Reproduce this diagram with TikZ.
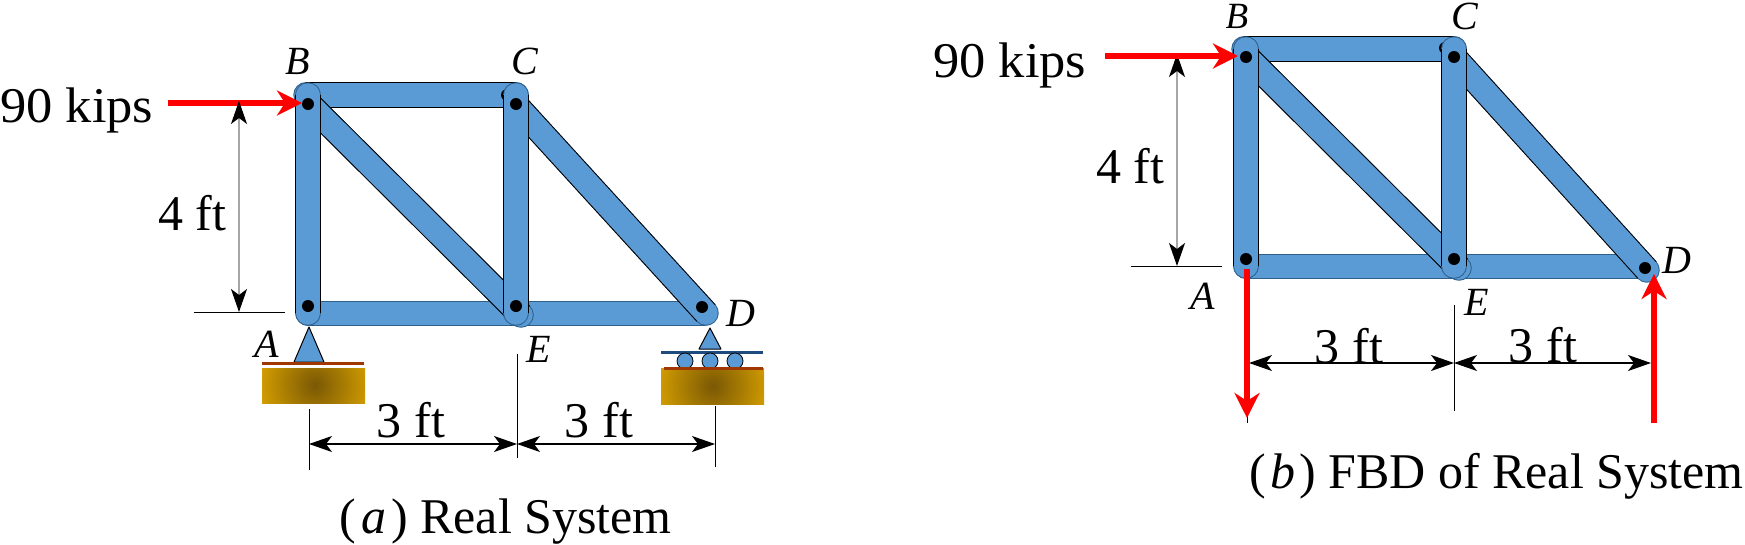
\documentclass[tikz,border=0pt]{standalone}
\usepackage{fontspec}
\setmainfont{Liberation Serif}
\newfontfamily\widefont[FakeStretch=1.05]{Liberation Serif}
\usetikzlibrary{arrows.meta}
\definecolor{memb}{RGB}{91,155,213}
\definecolor{membd}{RGB}{46,96,140}
\definecolor{goldb}{RGB}{214,160,0}
\definecolor{goldd}{RGB}{122,88,5}
\definecolor{rust}{RGB}{160,55,0}
\definecolor{navy}{RGB}{30,75,125}
\pgfdeclareradialshading{goldglow}{\pgfpointorigin}{color(0bp)=(goldd); color(25bp)=(goldb); color(50bp)=(goldb)}
\tikzset{x=1pt,y=-1pt,
 pin/.style={circle,fill=black,inner sep=0pt,minimum size=12pt},
 dimdbl/.style={draw=#1,line width=1.2pt,{Stealth[length=23pt,width=16pt,inset=6pt,color=black]}-{Stealth[length=23pt,width=16pt,inset=6pt,color=black]}},
 ext/.style={draw=black,line width=0.9pt},
 force/.style={draw=red,line width=6pt,-{Stealth[length=25pt,width=25pt,inset=8pt]}},
 lab/.style={font=\fontsize{50}{54}\selectfont,inner sep=0pt},
 plab/.style={font=\fontsize{40}{44}\selectfont\itshape,inner sep=0pt,anchor=base},
 roller/.style={circle,draw=black,fill=memb,line width=.8pt,inner sep=0pt,minimum size=16pt},
 tri/.style={draw=black,fill=memb,line width=1pt,line join=round},
}
% member with black sides and dark blue round ends
\newcommand{\membar}[2]{%
 \draw[draw=membd,line width=25.5pt,line cap=round] (#1) -- (#2);
 \draw[draw=black,line width=25.5pt] (#1) -- (#2);
 \draw[draw=memb,line width=23.5pt,line cap=round] (#1) -- (#2);}
% chord with dark blue outline only
\newcommand{\chordbar}[2]{%
 \draw[draw=membd,line width=25pt,line cap=round] (#1) -- (#2);
 \draw[draw=memb,line width=23pt,line cap=round] (#1) -- (#2);}
\begin{document}
\begin{tikzpicture}
\useasboundingbox (0,0) rectangle (1745,544);
% ---------- (a) coordinates
\coordinate (la1) at (308,313); \coordinate (lb1) at (308,95);
\coordinate (lt0) at (306,95);  \coordinate (lc1) at (516,95);
\coordinate (le1) at (516,313); \coordinate (lcb) at (507,95);
\coordinate (ld1) at (704,313); \coordinate (ldg0) at (308,103);
\coordinate (ldg1) at (521,315); \coordinate (lcd0) at (516,105);
\coordinate (lcd1) at (706,313);
% members (a)
\chordbar{la1}{ld1}
\membar{lt0}{lc1}
\node[pin] (lpinx) at (lcb) {};
\membar{ldg0}{ldg1}
\membar{lcd0}{lcd1}
\membar{la1}{lb1}
\membar{le1}{lc1}
\node[pin] (lpa) at (308,306) {};
\node[pin] (lpb) at (308,104) {};
\node[pin] (lpc) at (516,104) {};
\node[pin] (lpe) at (516,306) {};
\node[pin] (lpd) at (702,307) {};
% supports (a)
\draw[tri] (309,327) -- (324,362) -- (294,362) -- cycle;
\fill[rust] (262,362) rectangle (364,365);
\begin{scope}
 \clip (262,368) rectangle (365,403);
 \shade[shading=goldglow] (315,385) circle (58);
\end{scope}
\draw[tri] (710,328) -- (721,349) -- (699,349) -- cycle;
\fill[navy] (661,351) rectangle (763,354);
\node[roller] (lr1) at (685,361) {};
\node[roller] (lr2) at (710,361) {};
\node[roller] (lr3) at (735,361) {};
\begin{scope}
 \clip (661,368) rectangle (764,404);
 \shade[shading=goldglow] (713,386) circle (58);
\end{scope}
\fill[rust] (664,367) rectangle (763,370);
% force (a)
\coordinate (lf0) at (168,103); \coordinate (lf1) at (302,103);
\draw[force] (lf0) -- (lf1);
% dimensions (a)
\coordinate (lv0) at (239,312); \coordinate (lv1) at (239,101);
\coordinate (lv2) at (194,312); \coordinate (lv3) at (285,312);
\draw[dimdbl=black!35] (lv1) -- (lv0);
\draw[ext] (lv2) -- (lv3);
\coordinate (lh0) at (309,444); \coordinate (lh1) at (517,444); \coordinate (lh2) at (715,444);
\coordinate (lx0t) at (309,409); \coordinate (lx0b) at (309,470);
\coordinate (lx1t) at (517,354); \coordinate (lx1b) at (517,458);
\coordinate (lx2t) at (715,406); \coordinate (lx2b) at (715,467);
\draw[ext] (lx0t) -- (lx0b); \draw[ext] (lx1t) -- (lx1b); \draw[ext] (lx2t) -- (lx2b);
\draw[dimdbl=black] (lh0) -- (lh1);
\draw[dimdbl=black] (lh1) -- (lh2);
% labels (a)
\node[lab,anchor=base west] (l90) at (0,122) {\widefont 90 kips};
\node[lab,anchor=base west] (l4) at (158,230) {4 ft};
\node[lab,anchor=base] (l31) at (411,437) {3 ft};
\node[lab,anchor=base] (l32) at (599,437) {3 ft};
\node[plab] (lB) at (298,74) {B};
\node[plab] (lC) at (525,74) {C};
\node[plab] (lD) at (741,326) {D};
\node[plab] (lA) at (267,357) {A};
\node[plab] (lE) at (539,362) {E};
\node[lab,anchor=base east] (lcap) at (672,533) {(\kern5pt\textit{a}\kern5pt) Real System};
% ---------- (b) coordinates
\coordinate (ra1) at (1246,266); \coordinate (rb1) at (1246,49);
\coordinate (rt0) at (1244,49);  \coordinate (rc1) at (1454,49);
\coordinate (re1) at (1454,266); \coordinate (rcb) at (1445,48);
\coordinate (rd1) at (1640,266); \coordinate (rdg0) at (1246,56);
\coordinate (rdg1) at (1459,268); \coordinate (rcd0) at (1454,57);
\coordinate (rcd1) at (1647,270);
\chordbar{ra1}{rd1}
\membar{rt0}{rc1}
\node[pin] (rpinx) at (rcb) {};
\membar{rdg0}{rdg1}
\membar{rcd0}{rcd1}
\membar{ra1}{rb1}
\membar{re1}{rc1}
\node[pin] (rpa) at (1246,259) {};
\node[pin] (rpb) at (1246,57) {};
\node[pin] (rpc) at (1454,57) {};
\node[pin] (rpe) at (1454,259) {};
\node[pin] (rpd) at (1645,268) {};
% dimensions (b)
\coordinate (rv0) at (1177,266); \coordinate (rv1) at (1177,54);
\coordinate (rv2) at (1131,266); \coordinate (rv3) at (1222,266);
\draw[dimdbl=black!35] (rv1) -- (rv0);
\draw[ext] (rv2) -- (rv3);
\coordinate (rh0) at (1249,363); \coordinate (rh1) at (1454,363); \coordinate (rh2) at (1651,363);
\coordinate (rx0b) at (1247,423);
\coordinate (rx1t) at (1454,305); \coordinate (rx1b) at (1454,411);
\draw[ext] (rh0 -| rx0b) -- (rx0b);
\draw[ext] (rx1t) -- (rx1b);
\draw[dimdbl=black] (rh0) -- (rh1);
\draw[dimdbl=black] (rh1) -- (rh2);
% forces (b)
\coordinate (rf0) at (1105,56); \coordinate (rf1) at (1238,56);
\draw[force] (rf0) -- (rf1);
\coordinate (ra0) at (1247,269); \coordinate (ra2) at (1247,418);
\draw[force] (ra0) -- (ra2);
\coordinate (rd0) at (1654,423); \coordinate (rd2) at (1654,274);
\draw[force] (rd0) -- (rd2);
% labels (b)
\node[lab,anchor=base west] (r90) at (933,77) {\widefont 90 kips};
\node[lab,anchor=base west] (r4) at (1096,183) {4 ft};
\node[lab,anchor=base] (r31) at (1349,363) {3 ft};
\node[lab,anchor=base] (r32) at (1543,362) {3 ft};
\node[plab,font=\fontsize{37}{40}\selectfont\itshape] (rB) at (1237,28) {B};
\node[plab] (rC) at (1465,29) {C};
\node[plab] (rD) at (1677,273) {D};
\node[plab] (rA) at (1203,309) {A};
\node[plab] (rE) at (1477,315) {E};
\node[lab,anchor=base east] (rcap) at (1744,488) {(\kern4pt\textit{b}\kern4pt) FBD of Real System};
\end{tikzpicture}
\end{document}
